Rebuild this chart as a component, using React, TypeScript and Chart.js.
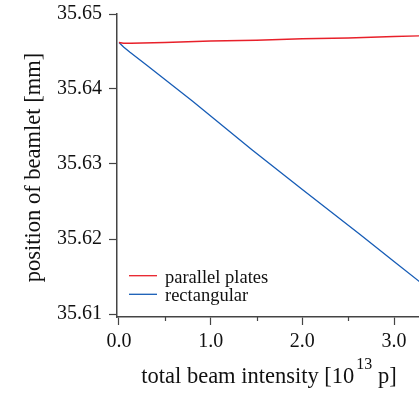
import React, { useEffect, useRef } from "react";
import { Chart, registerables } from "chart.js";

Chart.register(...registerables);

const redLabel = "parallel plates";
const blueLabel = "rectangular";

const redX = [0, 0.05, 0.13, 0.5, 1.0, 1.5, 2.0, 2.5, 3.0, 3.3];
const redY = [35.6462, 35.6461, 35.6461, 35.6462, 35.6464, 35.6465, 35.6467, 35.6468, 35.647, 35.6471];

const blueX = [0, 0.05, 0.12, 0.3, 0.8, 1.45, 2.0, 2.63, 3.0, 3.3];
const blueY = [35.6462, 35.6456, 35.6449, 35.6432, 35.6384, 35.6319, 35.6266, 35.6206, 35.617, 35.6141];

const xTicks = [0, 1, 2, 3];
const xMinorTicks = [0.5, 1.5, 2.5];
const yTicks = [35.61, 35.62, 35.63, 35.64, 35.65];

const xTitleMain = "total beam intensity [10";
const xTitleSup = "13";
const xTitleEnd = " p]";
const yTitle = "position of beamlet [mm]";

const FONT = "'Liberation Serif', 'Times New Roman', serif";
const AXIS = "#444444";
const RED = "rgb(232,32,42)";
const BLUE = "rgb(22,92,182)";

const decorPlugin = {
  id: "decor",
  afterDraw(chart: any) {
    const ctx = chart.ctx as CanvasRenderingContext2D;
    const xs = chart.scales.x;
    const area = chart.chartArea;
    ctx.save();
    // minor x ticks
    ctx.strokeStyle = AXIS;
    ctx.lineWidth = 1.2;
    xMinorTicks.forEach((v) => {
      const px = Math.round(xs.getPixelForValue(v)) + 0.5;
      ctx.beginPath();
      ctx.moveTo(px, area.bottom);
      ctx.lineTo(px, area.bottom + 4);
      ctx.stroke();
    });
    // legend
    const ds = chart.data.datasets;
    ctx.font = `18.5px ${FONT}`;
    ctx.textBaseline = "alphabetic";
    ctx.fillStyle = "#111";
    const legY = [275.7, 294.3];
    ds.forEach((d: any, i: number) => {
      ctx.strokeStyle = d.borderColor;
      ctx.lineWidth = 1.3;
      ctx.beginPath();
      ctx.moveTo(129, legY[i]);
      ctx.lineTo(157, legY[i]);
      ctx.stroke();
      ctx.fillText(d.label, 165, legY[i] + 7);
    });
    // x title
    const mainFont = `22.5px ${FONT}`;
    const supFont = `16px ${FONT}`;
    ctx.font = mainFont;
    const w1 = ctx.measureText(xTitleMain).width;
    const w3 = ctx.measureText(xTitleEnd).width;
    ctx.font = supFont;
    const w2 = ctx.measureText(xTitleSup).width;
    const gap = 2;
    const total = w1 + gap + w2 + w3;
    const cx = 269;
    const x0 = cx - total / 2;
    const base = 383;
    ctx.fillStyle = "#111";
    ctx.textAlign = "left";
    ctx.font = mainFont;
    ctx.fillText(xTitleMain, x0, base);
    ctx.font = supFont;
    ctx.fillText(xTitleSup, x0 + w1 + gap, base - 14);
    ctx.font = mainFont;
    ctx.fillText(xTitleEnd, x0 + w1 + gap + w2, base);
    // y title
    ctx.translate(40, 167.5);
    ctx.rotate(-Math.PI / 2);
    ctx.textAlign = "center";
    ctx.font = `22.5px ${FONT}`;
    ctx.fillText(yTitle, 0, 0);
    ctx.restore();
  },
};

export default function App() {
  const ref = useRef<HTMLCanvasElement>(null);
  useEffect(() => {
    if (!ref.current) return;
    const chart = new Chart(ref.current, {
      type: "line",
      data: {
        datasets: [
          {
            label: redLabel,
            data: redX.map((x, i) => ({ x, y: redY[i] })),
            borderColor: RED,
            borderWidth: 1.3,
            pointRadius: 0,
            tension: 0,
          },
          {
            label: blueLabel,
            data: blueX.map((x, i) => ({ x, y: blueY[i] })),
            borderColor: BLUE,
            borderWidth: 1.3,
            pointRadius: 0,
            tension: 0,
          },
        ],
      },
      options: {
        responsive: false,
        animation: false,
        layout: { padding: { top: 14, right: 0, left: 0, bottom: 0 } },
        plugins: { legend: { display: false }, tooltip: { enabled: false } },
        scales: {
          x: {
            type: "linear",
            min: -0.0218,
            max: 3.2727,
            afterBuildTicks: (s: any) => {
              s.ticks = xTicks.map((v) => ({ value: v }));
            },
            afterFit: (s: any) => {
              s.height = 77;
              s.paddingLeft = 0;
              s.paddingRight = 0;
            },
            ticks: {
              callback: (v: any) => Number(v).toFixed(1),
              font: { family: FONT, size: 20 },
              color: "#111",
              padding: 5,
              maxRotation: 0,
              autoSkip: false,
            },
            grid: {
              display: true,
              drawOnChartArea: false,
              drawTicks: true,
              tickLength: 8,
              tickColor: AXIS,
              tickWidth: 1.2,
            },
            border: { display: true, color: AXIS, width: 1.5 },
          },
          y: {
            type: "linear",
            min: 35.6096,
            max: 35.65,
            afterBuildTicks: (s: any) => {
              s.ticks = yTicks.map((v) => ({ value: v }));
            },
            afterFit: (s: any) => {
              s.width = 117;
              s.paddingTop = 0;
              s.paddingBottom = 0;
            },
            ticks: {
              callback: (v: any) => Number(v).toFixed(2),
              font: { family: FONT, size: 20 },
              color: "#111",
              padding: 7,
              autoSkip: false,
            },
            grid: {
              display: true,
              drawOnChartArea: false,
              drawTicks: true,
              tickLength: 8,
              tickColor: AXIS,
              tickWidth: 1.2,
            },
            border: { display: true, color: AXIS, width: 1.5 },
          },
        },
      },
      plugins: [decorPlugin],
    });
    return () => chart.destroy();
  }, []);
  return (
    <div style={{ position: "fixed", left: 0, top: 0, width: 419, height: 394, background: "#fff" }}>
      <canvas ref={ref} width={419} height={394} style={{ display: "block" }} />
    </div>
  );
}
